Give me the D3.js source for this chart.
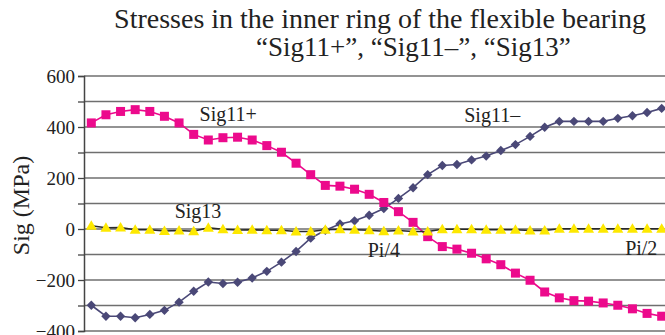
<!DOCTYPE html>
<html>
<head>
<meta charset="utf-8">
<script src="https://cdn.jsdelivr.net/npm/d3@7"></script>
<style>
  html, body { margin: 0; padding: 0; background: #ffffff; }
  svg { display: block; }
</style>
</head>
<body>
<svg id="chart" width="665" height="335"></svg>
<script>
// Stress values (MPa) sampled along the inner ring, from 0 to Pi/2
const sig11Plus = [416, 448, 461, 468, 461, 442, 416, 371, 349, 358,
                   360, 349, 327, 301, 258, 213, 171, 168, 156, 136,
                   104, 68, 26, -30, -69, -79, -95, -117, -140, -173,
                   -201, -247, -270, -281, -283, -290, -299, -313, -331, -342];
const sig11Minus = [-299, -342, -342, -348, -335, -319, -287, -244, -208, -214,
                    -209, -192, -166, -130, -88, -36, -5, 20, 32, 54,
                    80, 120, 162, 213, 249, 253, 271, 286, 308, 331,
                    363, 399, 422, 422, 422, 422, 434, 444, 457, 473];
const sig13 = [13, 5, 6, -3, -3, -8, -6, -9, 5, -1,
               -4, -3, -5, -5, -10, -10, -3, -1, -3, -5,
               -9, -6, -10, -10, -1, -1, -1, -3, -3, -3,
               -6, -6, 1, 1, 1, 1, 1, 1, 1, 1];
const positions = d3.range(sig11Plus.length);
const yTicks = d3.range(-400, 601, 100);
const yLabelTicks = [-400, -200, 0, 200, 400, 600];
const titleLines = [
  {text: "Stresses in the inner ring of the flexible bearing", x: 380, anchor: "middle", size: 28},
  {text: "\u201CSig11+\u201D, \u201CSig11\u2013\u201D, \u201CSig13\u201D", x: 256, anchor: "start", size: 27}
];
// label text, position along the sample index, and stress level of its baseline
const seriesLabels = [
  {text: "Sig11+", at: 7.4, value: 425},
  {text: "Sig11\u2013", at: 25.5, value: 421},
  {text: "Sig13", at: 5.7, value: 43},
  {text: "Pi/4", at: 18.9, value: -108},
  {text: "Pi/2", at: 36.5, value: -103}
];

const FONT = "'Liberation Serif'";
const svg = d3.select("#chart");
const plot = {left: 84, right: 669, top: 76, bottom: 331};

const x = d3.scalePoint().domain(positions).range([plot.left, plot.right]).padding(0.5);
const xAt = t => x(0) + x.step() * t;
const y = d3.scaleLinear().domain([-400, 600]).range([plot.bottom, plot.top]);

// horizontal gridlines
svg.append("g").selectAll("line").data(yTicks).join("line")
  .attr("x1", plot.left).attr("x2", plot.right)
  .attr("y1", d => y(d)).attr("y2", d => y(d))
  .attr("stroke", "#6f6f6f").attr("stroke-width", 1.3);

// y axis
const fmt = d => yLabelTicks.includes(d) ? (d < 0 ? "\u2212" + Math.abs(d) : String(d)) : "";
const yAxis = svg.append("g").attr("transform", `translate(${plot.left},0)`)
  .call(d3.axisLeft(y).tickValues(yTicks).tickSize(6).tickPadding(3).tickFormat(fmt));
yAxis.attr("font-family", null).attr("font-size", null);
yAxis.select(".domain").attr("stroke", "#444").attr("stroke-width", 1.5);
yAxis.selectAll(".tick line").attr("stroke", "#444").attr("stroke-width", 1.3);
yAxis.selectAll(".tick text")
  .style("font-family", FONT).style("font-size", "19px").attr("fill", "#222");

// y axis title
svg.append("text")
  .attr("transform", `translate(29,${(plot.top + plot.bottom) / 2 + 2}) rotate(-90)`)
  .attr("text-anchor", "middle")
  .style("font-family", FONT).style("font-size", "24px").attr("fill", "#222")
  .text("Sig (MPa)");

// chart title
svg.append("g").selectAll("text").data(titleLines).join("text")
  .attr("x", d => d.x).attr("y", (d, i) => 28 + i * 28)
  .attr("text-anchor", d => d.anchor)
  .style("font-family", FONT).style("font-size", d => d.size + "px").attr("fill", "#222")
  .text(d => d.text);

const line = d3.line().x((d, i) => x(i)).y(d => y(d));

// Sig11- : dark blue diamonds
svg.append("path").datum(sig11Minus).attr("d", line)
  .attr("fill", "none").attr("stroke", "#4a4877").attr("stroke-width", 1.6);
svg.append("g").selectAll("path").data(sig11Minus).join("path")
  .attr("d", d3.symbol(d3.symbolSquare, 44))
  .attr("transform", (d, i) => `translate(${x(i)},${y(d)}) rotate(45)`)
  .attr("fill", "#4a4877");

// Sig11+ : magenta squares
svg.append("path").datum(sig11Plus).attr("d", line)
  .attr("fill", "none").attr("stroke", "#ec0a8c").attr("stroke-width", 1.6);
svg.append("g").selectAll("rect").data(sig11Plus).join("rect")
  .attr("x", (d, i) => x(i) - 4.5).attr("y", d => y(d) - 4.5)
  .attr("width", 9).attr("height", 9)
  .attr("fill", "#ec0a8c");

// Sig13 : yellow triangles on a dark line
svg.append("path").datum(sig13).attr("d", line)
  .attr("fill", "none").attr("stroke", "#2a2a2a").attr("stroke-width", 1.6);
svg.append("g").selectAll("path").data(sig13).join("path")
  .attr("d", (d, i) => {
    const cx = x(i), cy = y(d);
    return `M${cx},${cy - 5.5}L${cx + 5.5},${cy + 4}L${cx - 5.5},${cy + 4}Z`;
  })
  .attr("fill", "#fde800");

// series / position labels inside the plot
svg.append("g").selectAll("text").data(seriesLabels).join("text")
  .attr("x", d => xAt(d.at)).attr("y", d => y(d.value))
  .attr("text-anchor", "start")
  .style("font-family", FONT).style("font-size", "20px").attr("fill", "#222")
  .text(d => d.text);
</script>
</body>
</html>
